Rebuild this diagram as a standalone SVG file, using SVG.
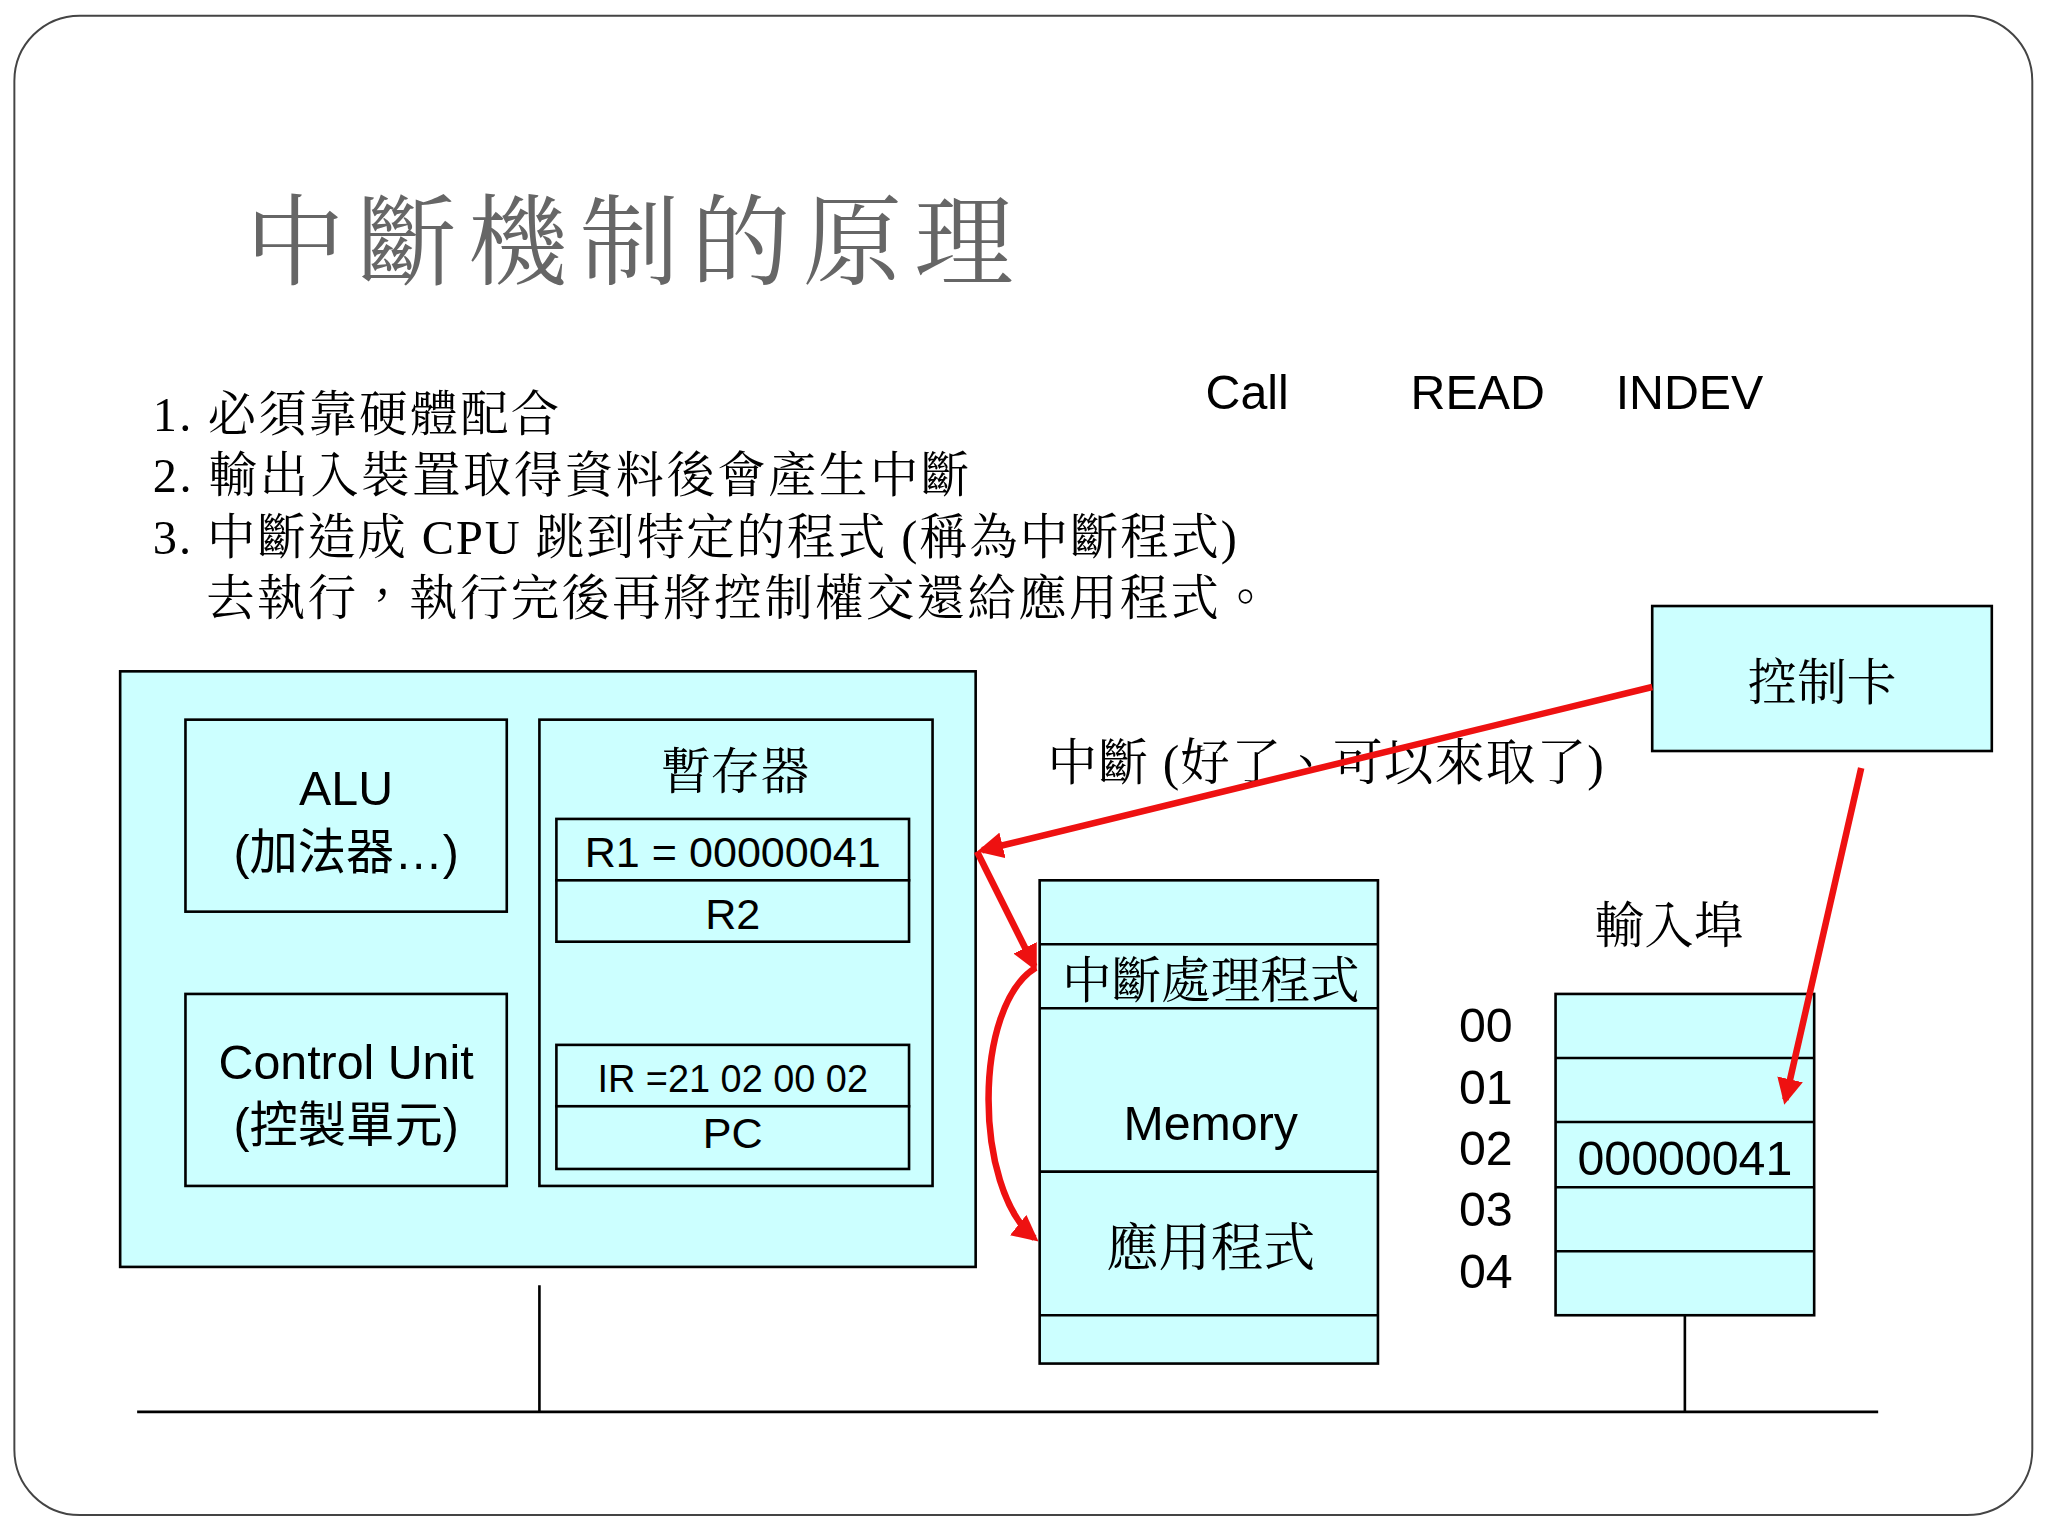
<svg xmlns="http://www.w3.org/2000/svg" width="2048" height="1536" viewBox="0 0 2048 1536">
<defs>
<style>
.b{fill:#ccffff;stroke:#000;stroke-width:2}
.t{font-family:"Liberation Sans","Noto Sans CJK TC",sans-serif;fill:#000}
.s{font-family:"Liberation Serif","Noto Serif CJK TC","Noto Sans CJK TC",serif;fill:#000}
.r{stroke:#ee1111;stroke-width:5;fill:none}
.k{stroke:#000;stroke-width:2;fill:none}
</style>
<marker id="a" viewBox="0 0 10 10" refX="8" refY="5" markerWidth="4" markerHeight="4" orient="auto"><path d="M0,0L10,5L0,10z" fill="#ee1111"/></marker>
</defs>
<rect width="2048" height="1536" fill="#fff"/>
<g transform="scale(1.3061)">
<rect x="11" y="12" width="1545" height="1148" rx="50" fill="#fff" stroke="#444" stroke-width="1.5"/>
<text x="188" y="212" class="s" font-size="76" style="fill:#666" textLength="588">中斷機制的原理</text>
<g class="s" font-size="37">
<text x="117" y="330" textLength="311">1. 必須靠硬體配合</text>
<text x="117" y="377" textLength="625">2. 輸出入裝置取得資料後會產生中斷</text>
<text x="117" y="424" textLength="830">3. 中斷造成 CPU 跳到特定的程式 (稱為中斷程式)</text>
<text x="158" y="471" textLength="814">去執行，執行完後再將控制權交還給應用程式。</text>
</g>
<g class="t" font-size="37"><text x="923" y="313">Call</text><text x="1080" y="313">READ</text><text x="1237" y="313">INDEV</text></g>
<g id="cpu"><rect class="b" x="92" y="514" width="655" height="456"/></g>
<g id="alu"><rect class="b" x="142" y="551" width="246" height="147"/>
<text class="t" x="265" y="616" font-size="37" text-anchor="middle">ALU</text>
<text class="t" x="265" y="665" font-size="37" text-anchor="middle">(加法器…)</text></g>
<g id="cu"><rect class="b" x="142" y="761" width="246" height="147"/>
<text class="t" x="265" y="826" font-size="37" text-anchor="middle">Control Unit</text>
<text class="t" x="265" y="874" font-size="37" text-anchor="middle">(控製單元)</text></g>
<g id="reg"><rect class="b" x="413" y="551" width="301" height="357"/>
<text class="s" x="563" y="604" font-size="38" text-anchor="middle">暫存器</text>
<rect class="b" x="426" y="627" width="270" height="47"/><rect class="b" x="426" y="674" width="270" height="47"/>
<text class="t" x="561" y="664" font-size="33" text-anchor="middle">R1 = 00000041</text>
<text class="t" x="561" y="711" font-size="33" text-anchor="middle">R2</text>
<rect class="b" x="426" y="800" width="270" height="47"/><rect class="b" x="426" y="847" width="270" height="48"/>
<text class="t" x="561" y="836" font-size="29" text-anchor="middle">IR =21 02 00 02</text>
<text class="t" x="561" y="879" font-size="33" text-anchor="middle">PC</text></g>
<g id="mem"><rect class="b" x="796" y="674" width="259" height="370"/>
<path class="k" d="M796 723H1055M796 772H1055M796 897H1055M796 1007H1055"/>
<text class="s" x="927" y="764" font-size="38" text-anchor="middle">中斷處理程式</text>
<text class="t" x="927" y="873" font-size="37" text-anchor="middle">Memory</text>
<text class="s" x="927" y="969" font-size="40" text-anchor="middle">應用程式</text></g>
<g id="card"><rect class="b" x="1265" y="464" width="260" height="111"/>
<text class="s" x="1395" y="536" font-size="38" text-anchor="middle">控制卡</text></g>
<g id="port"><text class="s" x="1278" y="722" font-size="38" text-anchor="middle">輸入埠</text>
<rect class="b" x="1191" y="761" width="198" height="246"/>
<path class="k" d="M1191 810H1389M1191 859H1389M1191 909H1389M1191 958H1389"/>
<text class="t" x="1290" y="900" font-size="37" text-anchor="middle">00000041</text>
<g class="t" font-size="37"><text x="1117" y="798">00</text><text x="1117" y="845">01</text><text x="1117" y="892">02</text><text x="1117" y="939">03</text><text x="1117" y="986">04</text></g></g>
<text class="s" x="802" y="597" font-size="38" textLength="426">中斷 (好了、可以來取了)</text>
<g id="connectors">
<path class="k" d="M105 1081H1438M413 984V1081M1290 1007V1081"/>
<path class="r" d="M1265 526L752 651" marker-end="url(#a)"/>
<path class="r" d="M748 652L792 740" marker-end="url(#a)"/>
<path class="r" d="M1425 588L1367 842" marker-end="url(#a)"/>
<path class="r" d="M793 741C745 770 745 910 792 948" marker-end="url(#a)"/>
</g>
</g>
</svg>
